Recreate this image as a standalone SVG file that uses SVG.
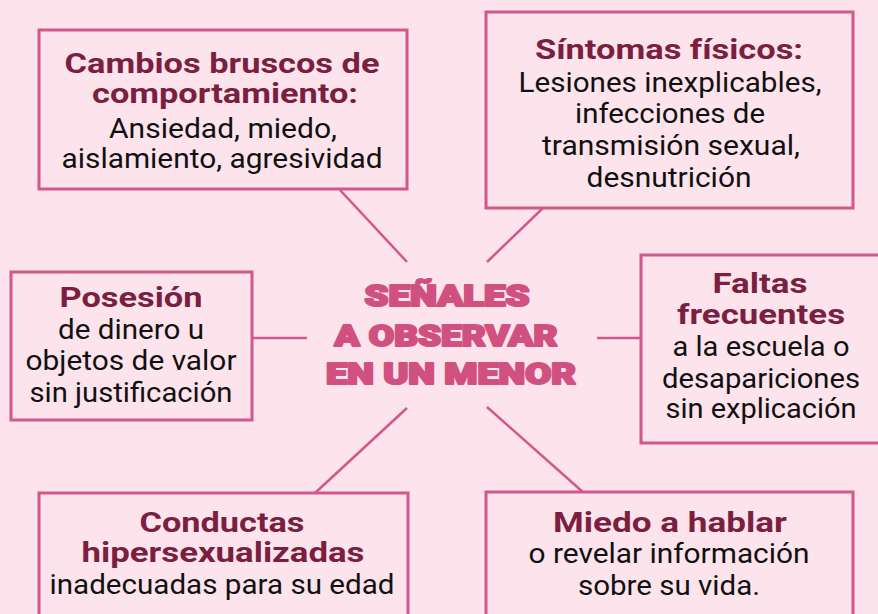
<svg xmlns="http://www.w3.org/2000/svg" width="878" height="614" viewBox="0 0 878 614">
<style>
.bx{fill:#fce3ec;stroke:#d2578a;stroke-width:3}
.ln{stroke:#d2578a;stroke-width:2.5;fill:none}
.t{font-family:Roboto,"Noto Sans",sans-serif;font-weight:700;font-size:28px;fill:#7a1f3f;text-anchor:middle}
.b{font-family:Roboto,"Noto Sans",sans-serif;font-weight:400;font-size:27px;fill:#111;text-anchor:middle}
.c{font-family:Roboto,"Noto Sans",sans-serif;font-weight:900;font-size:30px;fill:#d0517f;stroke:#d0517f;stroke-width:2.2;stroke-linejoin:round;text-anchor:middle}
</style>
<rect width="878" height="614" fill="#fce3ec"/>
<g id="connectors">
<line class="ln" x1="340" y1="190" x2="407" y2="262"/>
<line class="ln" x1="543" y1="208" x2="487" y2="262"/>
<line class="ln" x1="252" y1="338" x2="307" y2="338"/>
<line class="ln" x1="597" y1="338" x2="640" y2="338"/>
<line class="ln" x1="315" y1="493" x2="407" y2="408"/>
<line class="ln" x1="584" y1="493" x2="487" y2="407"/>
</g>
<g id="center">
<text class="c" x="447" y="306" textLength="165" lengthAdjust="spacingAndGlyphs">SEÑALES</text>
<text class="c" x="446" y="346" textLength="223" lengthAdjust="spacingAndGlyphs">A OBSERVAR</text>
<text class="c" x="451" y="384" textLength="250" lengthAdjust="spacingAndGlyphs">EN UN MENOR</text>
</g>
<g id="cambios">
<rect class="bx" x="39" y="30" width="368" height="159"/>
<text class="t" x="222" y="73" textLength="315" lengthAdjust="spacingAndGlyphs">Cambios bruscos de</text>
<text class="t" x="225" y="103" textLength="266" lengthAdjust="spacingAndGlyphs">comportamiento:</text>
<text class="b" x="223" y="138" textLength="228" lengthAdjust="spacingAndGlyphs">Ansiedad, miedo,</text>
<text class="b" x="222" y="168" textLength="321" lengthAdjust="spacingAndGlyphs">aislamiento, agresividad</text>
</g>
<g id="sintomas">
<rect class="bx" x="486" y="12" width="367" height="196"/>
<text class="t" x="669" y="59" textLength="268" lengthAdjust="spacingAndGlyphs">Síntomas físicos:</text>
<text class="b" x="670" y="92" textLength="303" lengthAdjust="spacingAndGlyphs">Lesiones inexplicables,</text>
<text class="b" x="670" y="123" textLength="190" lengthAdjust="spacingAndGlyphs">infecciones de</text>
<text class="b" x="671" y="155" textLength="258" lengthAdjust="spacingAndGlyphs">transmisión sexual,</text>
<text class="b" x="669" y="187" textLength="165" lengthAdjust="spacingAndGlyphs">desnutrición</text>
</g>
<g id="faltas">
<rect class="bx" x="641" y="255" width="250" height="188"/>
<text class="t" x="760" y="293" textLength="95" lengthAdjust="spacingAndGlyphs">Faltas</text>
<text class="t" x="761" y="324" textLength="168" lengthAdjust="spacingAndGlyphs">frecuentes</text>
<text class="b" x="761" y="356" textLength="177" lengthAdjust="spacingAndGlyphs">a la escuela o</text>
<text class="b" x="761" y="388" textLength="198" lengthAdjust="spacingAndGlyphs">desapariciones</text>
<text class="b" x="761" y="418" textLength="191" lengthAdjust="spacingAndGlyphs">sin explicación</text>
</g>
<g id="posesion">
<rect class="bx" x="11" y="272" width="241" height="148"/>
<text class="t" x="131" y="307" textLength="143" lengthAdjust="spacingAndGlyphs">Posesión</text>
<text class="b" x="131" y="339" textLength="146" lengthAdjust="spacingAndGlyphs">de dinero u</text>
<text class="b" x="131" y="370" textLength="211" lengthAdjust="spacingAndGlyphs">objetos de valor</text>
<text class="b" x="131" y="402" textLength="203" lengthAdjust="spacingAndGlyphs">sin justificación</text>
</g>
<g id="conductas">
<rect class="bx" x="39" y="493" width="369" height="140"/>
<text class="t" x="222" y="532" textLength="165" lengthAdjust="spacingAndGlyphs">Conductas</text>
<text class="t" x="223" y="562" textLength="283" lengthAdjust="spacingAndGlyphs">hipersexualizadas</text>
<text class="b" x="222" y="594" textLength="345" lengthAdjust="spacingAndGlyphs">inadecuadas para su edad</text>
</g>
<g id="miedo">
<rect class="bx" x="486" y="492" width="367" height="140"/>
<text class="t" x="670" y="532" textLength="234" lengthAdjust="spacingAndGlyphs">Miedo a hablar</text>
<text class="b" x="669" y="563" textLength="281" lengthAdjust="spacingAndGlyphs">o revelar información</text>
<text class="b" x="669" y="595" textLength="182" lengthAdjust="spacingAndGlyphs">sobre su vida.</text>
</g>
</svg>
